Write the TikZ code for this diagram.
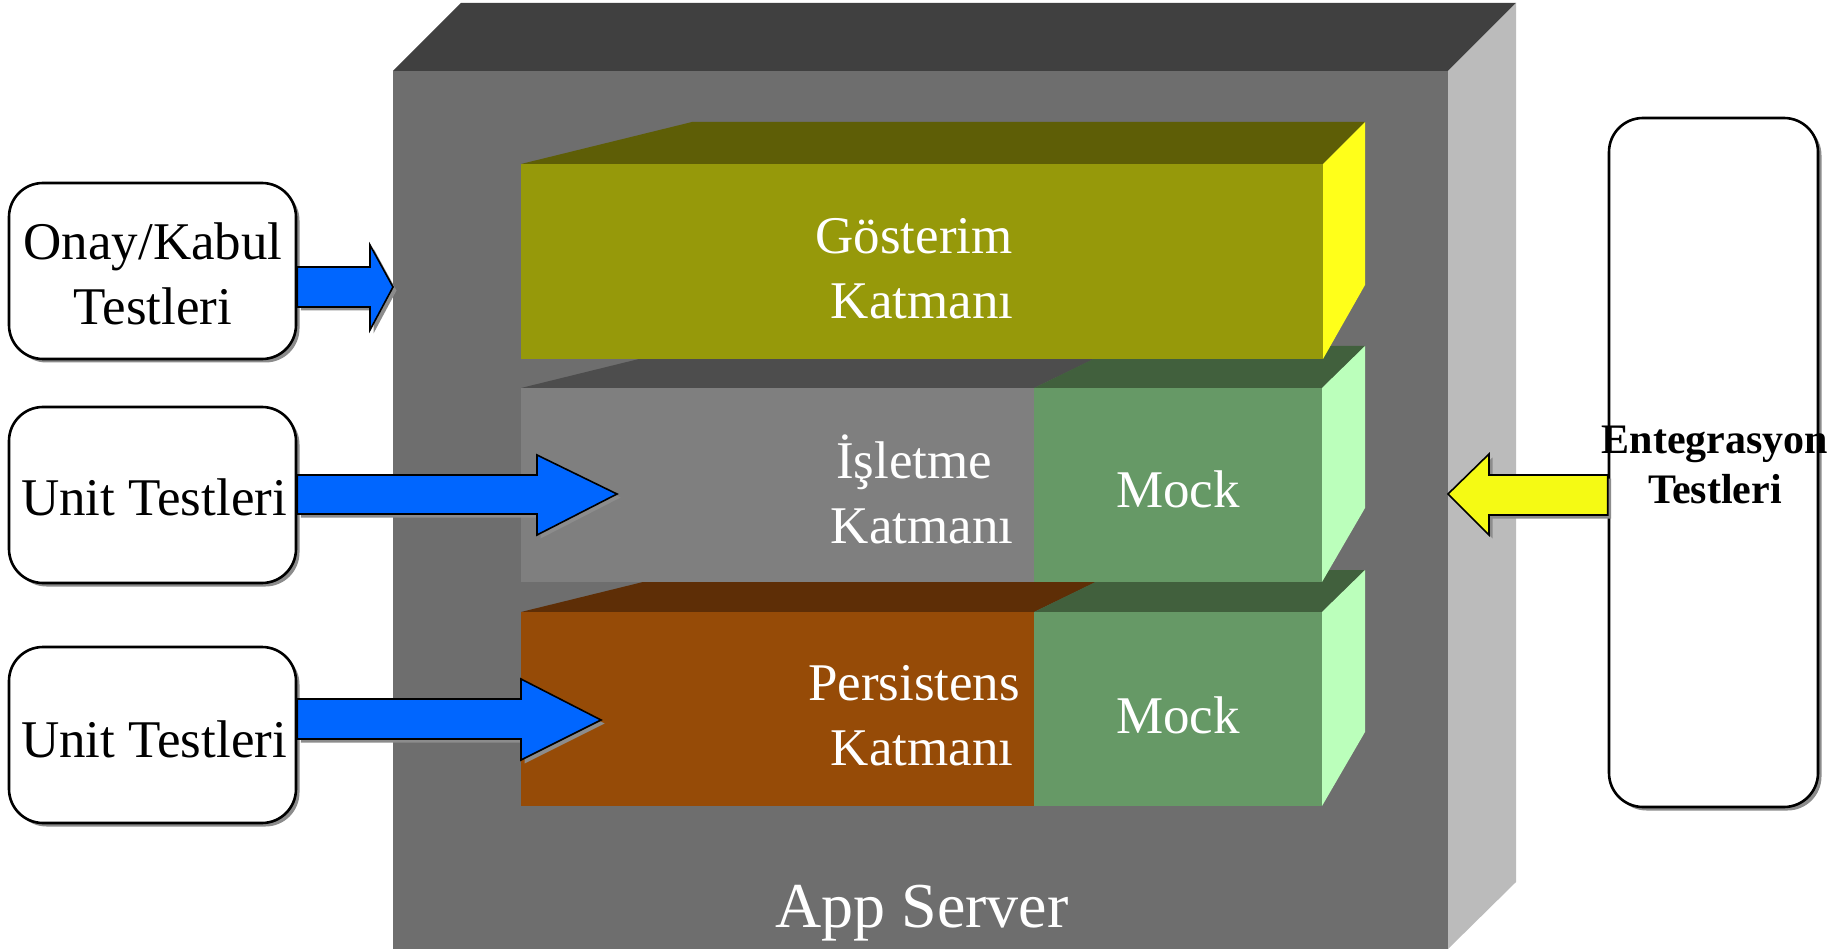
\documentclass[tikz,border=0pt]{standalone}
\usepackage{fontspec}
\setmainfont{Liberation Serif}
\usetikzlibrary{shadows}
\definecolor{srvfront}{HTML}{6E6E6E}
\definecolor{srvtop}{HTML}{404040}
\definecolor{srvside}{HTML}{BBBBBB}
\definecolor{gosfront}{HTML}{96990A}
\definecolor{gostop}{HTML}{5E5E06}
\definecolor{gosside}{HTML}{FFFF1A}
\definecolor{islfront}{HTML}{7F7F7F}
\definecolor{isltop}{HTML}{4D4D4D}
\definecolor{mockfront}{HTML}{669966}
\definecolor{mocktop}{HTML}{41603D}
\definecolor{mockside}{HTML}{BBFFBB}
\definecolor{perfront}{HTML}{964B07}
\definecolor{pertop}{HTML}{5E2E06}
\definecolor{arrowblue}{HTML}{0066FF}
\definecolor{arrowyellow}{HTML}{F5FA14}
\definecolor{shadowgray}{HTML}{8C8C8C}
\begin{document}
\begin{tikzpicture}[x=1pt,y=-1pt,
  shade3d/.style={general shadow={fill=shadowgray, shadow xshift=3.5pt, shadow yshift=-3.5pt}},
  testbox/.style={draw=black, line width=2.6pt, fill=white, rounded corners=34pt, shade3d, inner sep=0pt},
  blockarrow/.style={draw=black, line width=1.6pt, line join=miter, shade3d},
  layertext/.style={text=white, align=center, inner sep=0pt, font=\fontsize{53}{65}\selectfont},
  boxtext/.style={text=black, align=center, inner sep=0pt, font=\fontsize{53}{65}\selectfont}]
\useasboundingbox (0,0) rectangle (1840,949);
% App server block
\fill[srvfront] (393,71) rectangle (1448,949);
\fill[srvtop] (393,71) -- (461,3) -- (1516,3) -- (1448,71) -- cycle;
\fill[srvside] (1448,71) -- (1516,3) -- (1516,882) -- (1448,949) -- cycle;
% Persistens layer
\fill[pertop] (521,612) -- (643,582) -- (1096,582) -- (1034,612) -- cycle;
\fill[mocktop] (1034,612) -- (1120,570) -- (1365,570) -- (1322,612) -- cycle;
\fill[mockside] (1322,612) -- (1365,570) -- (1365,732) -- (1322,806) -- cycle;
\fill[perfront] (521,612) rectangle (1034,806);
\fill[mockfront] (1034,612) rectangle (1322,806);
% Isletme layer
\fill[isltop] (521,388) -- (643,358) -- (1096,358) -- (1034,388) -- cycle;
\fill[mocktop] (1034,388) -- (1120,346) -- (1365,346) -- (1322,388) -- cycle;
\fill[mockside] (1322,388) -- (1365,346) -- (1365,508) -- (1322,582) -- cycle;
\fill[islfront] (521,388) rectangle (1034,582);
\fill[mockfront] (1034,388) rectangle (1322,582);
% Gosterim layer
\fill[gostop] (521,164) -- (692,122) -- (1365,122) -- (1323,164) -- cycle;
\fill[gosside] (1323,164) -- (1365,122) -- (1365,285) -- (1323,359) -- cycle;
\fill[gosfront] (521,164) rectangle (1323,359);
% layer texts
\node[layertext] (gos) at (914,269) {Gösterim\\\hspace*{16pt}Katmanı};
\node[layertext] (isl) at (914,489) {İşletme\\\hspace*{16pt}Katmanı};
\node[layertext] (per) at (914,716) {Persistens\\\hspace*{16pt}Katmanı};
\node[layertext] (mock1) at (1178,489) {Mock};
\node[layertext] (mock2) at (1178,715) {Mock};
\node[text=white, inner sep=0pt, font=\fontsize{64}{70}\selectfont] (srv) at (922,913) {App Server};
% test boxes
\node[testbox, minimum width=287pt, minimum height=176pt] (onay) at (152.5,271) {};
\node[boxtext] (onayt) at (153,274) {Onay/Kabul\\Testleri};
\node[testbox, minimum width=287pt, minimum height=176pt] (unit1) at (152.5,495) {};
\node[boxtext] (unit1t) at (154,497) {Unit Testleri};
\node[testbox, minimum width=287pt, minimum height=176pt] (unit2) at (152.5,735) {};
\node[boxtext] (unit2t) at (154,739) {Unit Testleri};
% arrows
\filldraw[blockarrow, fill=arrowblue] (onay.east |- 0,267) -- (370,267) -- (370,245) -- (393,287) -- (370,330) -- (370,307) -- (onay.east |- 0,307) -- cycle;
\filldraw[blockarrow, fill=arrowblue] (unit1.east |- 0,475) -- (537,475) -- (537,455) -- (617,494) -- (537,535) -- (537,514) -- (unit1.east |- 0,514) -- cycle;
\filldraw[blockarrow, fill=arrowblue] (unit2.east |- 0,699) -- (521,699) -- (521,679) -- (601,720) -- (521,760) -- (521,739) -- (unit2.east |- 0,739) -- cycle;
% integration box
\node[testbox, minimum width=209pt, minimum height=689pt] (integ) at (1713.5,462.5) {};
\filldraw[blockarrow, fill=arrowyellow] (integ.west |- 0,475) -- (1489,475) -- (1489,454) -- (1448,494) -- (1489,535) -- (1489,515) -- (integ.west |- 0,515) -- cycle;
\node[text=black, align=center, inner sep=0pt, font=\bfseries\fontsize{42}{50}\selectfont] (integt) at (1715,465) {Entegrasyon\\Testleri};
\end{tikzpicture}
\end{document}
